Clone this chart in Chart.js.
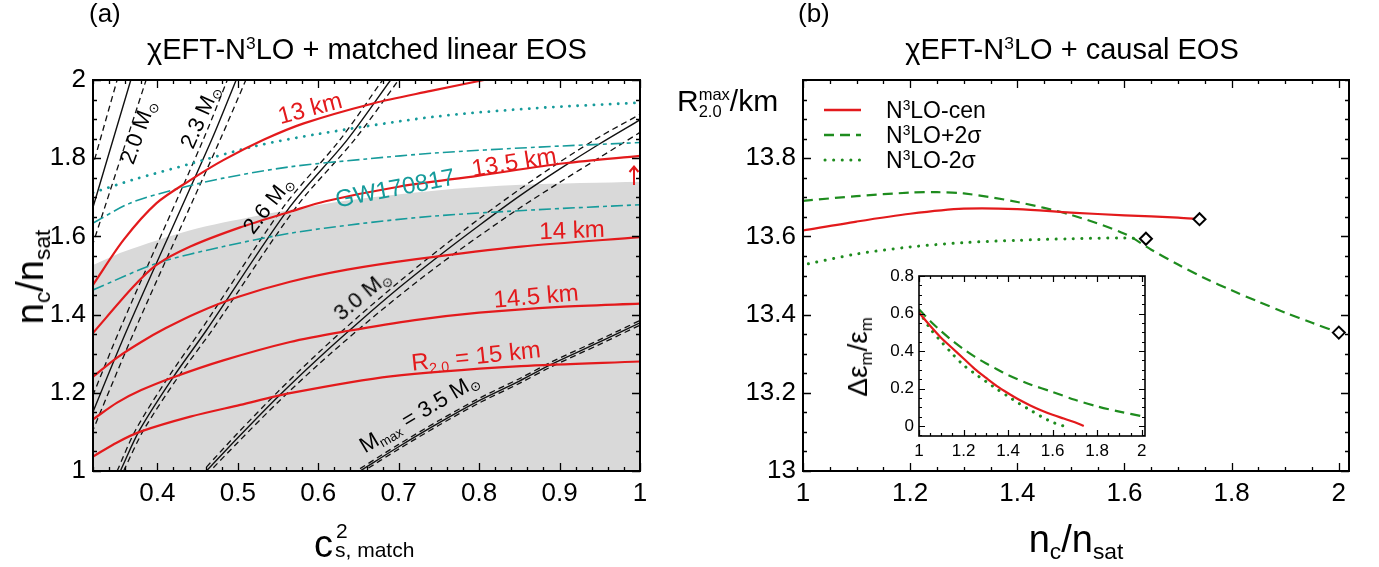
<!DOCTYPE html>
<html>
<head>
<meta charset="utf-8">
<script src="https://cdn.jsdelivr.net/npm/chart.js@4.4.1/dist/chart.umd.min.js"></script>
<style>
  body { margin: 0; background: #fff; width: 1379px; height: 567px; position: relative; overflow: hidden;
         font-family: "Liberation Sans", Arial, sans-serif; color: #000; }
  canvas { position: absolute; }
  .t { position: absolute; white-space: nowrap; line-height: 1; }
  .lab { position: absolute; white-space: nowrap; line-height: 1; transform-origin: 50% 50%; }
  sub { font-size: 0.6em; vertical-align: -0.3em; line-height: 0; }
  sup { font-size: 0.6em; vertical-align: 0.55em; line-height: 0; }
  .stack { display: inline-block; vertical-align: -0.35em; line-height: 1; font-size: 0.55em; }
  .stack span { display: block; }
</style>
</head>
<body>
<canvas id="ca" width="680" height="567" style="left:0;top:0"></canvas>
<canvas id="cb" width="689" height="567" style="left:690px;top:0"></canvas>
<canvas id="cc" width="300" height="220" style="left:860px;top:256px"></canvas>

<div class="t" style="left:89px;top:0px;font-size:26px">(a)</div>
<div class="t" style="left:798px;top:0px;font-size:26px">(b)</div>
<div class="t" style="left:367px;top:35px;font-size:29px;transform:translateX(-50%)">χEFT-N<sup>3</sup>LO + matched linear EOS</div>
<div class="t" style="left:1072px;top:35px;font-size:29px;transform:translateX(-50%)">χEFT-N<sup>3</sup>LO + causal EOS</div>

<!-- axis titles -->
<div class="lab" style="left:30px;top:277px;font-size:38px;transform:translate(-50%,-50%) rotate(-90deg)">n<sub>c</sub>/n<sub>sat</sub></div>
<div class="t" style="left:314px;top:525px;font-size:38px">c</div>
<div class="t" style="left:336px;top:520px;font-size:21px">2</div>
<div class="t" style="left:335px;top:539px;font-size:21px">s, match</div>
<div class="t" style="left:1076px;top:520px;font-size:38px;transform:translateX(-50%)">n<sub>c</sub>/n<sub>sat</sub></div>
<div class="t" style="left:677px;top:86px;font-size:30px">R<span class="stack"><span>max</span><span>2.0</span></span>/km</div>
<div class="lab" style="left:858px;top:357px;font-size:28px;transform:translate(-50%,-50%) rotate(-90deg)">Δε<sub>m</sub>/ε<sub>m</sub></div>

<!-- legend of panel b -->
<svg style="position:absolute;left:820px;top:98px" width="50" height="75">
  <line x1="4" y1="12" x2="41" y2="12" stroke="#e31a1c" stroke-width="2.5"/>
  <line x1="4" y1="37" x2="41" y2="37" stroke="#1e8c1e" stroke-width="2.5" stroke-dasharray="10,6"/>
  <line x1="5" y1="62" x2="41" y2="62" stroke="#1e8c1e" stroke-width="3" stroke-dasharray="0.1,8.5" stroke-linecap="round"/>
</svg>
<div class="t" style="left:886px;top:99px;font-size:23px">N<sup>3</sup>LO-cen</div>
<div class="t" style="left:886px;top:124px;font-size:23px">N<sup>3</sup>LO+2σ</div>
<div class="t" style="left:886px;top:149px;font-size:23px">N<sup>3</sup>LO-2σ</div>

<script>
const FONT = '"Liberation Sans", Arial, sans-serif';
const RED = '#e31a1c', GREEN = '#1e8c1e', TEAL = '#169b9b';

// ---------- panel (a) : n_c/n_sat vs c_s^2 ----------
const xTicksA = [0.4, 0.5, 0.6, 0.7, 0.8, 0.9, 1];
const xLabelsA = ['0.4', '0.5', '0.6', '0.7', '0.8', '0.9', '1'];
const yTicksA = [1, 1.2, 1.4, 1.6, 1.8, 2];
const yLabelsA = ['1', '1.2', '1.4', '1.6', '1.8', '2'];

// grey band (upper edge)
const grayX = [0.32, 0.358, 0.441, 0.523, 0.565, 0.636, 0.744, 0.852, 1.0];
const grayY = [1.527, 1.561, 1.616, 1.652, 1.668, 1.692, 1.717, 1.732, 1.74];

// R_2.0 contours
const r13X = [0.32, 0.358, 0.399, 0.441, 0.482, 0.532, 0.582, 0.668, 0.74, 0.82];
const r13Y = [1.476, 1.591, 1.685, 1.744, 1.795, 1.847, 1.889, 1.94, 1.972, 2.006];
const r135X = [0.32, 0.37, 0.399, 0.441, 0.503, 0.565, 0.609, 0.70, 0.798, 0.906, 1.0];
const r135Y = [1.353, 1.471, 1.527, 1.574, 1.623, 1.663, 1.69, 1.727, 1.755, 1.787, 1.806];
const r14X = [0.32, 0.35, 0.38, 0.41, 0.45, 0.5, 0.565, 0.636, 0.722, 0.852, 1.0];
const r14Y = [1.241, 1.29, 1.33, 1.365, 1.405, 1.445, 1.484, 1.515, 1.542, 1.574, 1.598];
const r145X = [0.32, 0.35, 0.38, 0.42, 0.482, 0.565, 0.636, 0.72, 0.8, 0.9, 1.0];
const r145Y = [1.132, 1.175, 1.207, 1.24, 1.283, 1.33, 1.358, 1.386, 1.405, 1.42, 1.428];
const r15X = [0.32, 0.35, 0.378, 0.441, 0.503, 0.565, 0.69, 0.852, 1.0];
const r15Y = [1.037, 1.073, 1.10, 1.139, 1.169, 1.199, 1.242, 1.268, 1.28];

// GW170817 bounds
const tDotX = [0.32, 0.37, 0.44, 0.52, 0.60, 0.744, 0.87, 1.0];
const tDotY = [1.712, 1.745, 1.785, 1.83, 1.862, 1.906, 1.928, 1.942];
const tUpX = [0.32, 0.366, 0.42, 0.482, 0.565, 0.66, 0.744, 0.87, 1.0];
const tUpY = [1.634, 1.685, 1.719, 1.749, 1.778, 1.798, 1.813, 1.828, 1.84];
const tLoX = [0.32, 0.399, 0.482, 0.565, 0.65, 0.744, 0.87, 1.0];
const tLoY = [1.463, 1.531, 1.574, 1.608, 1.632, 1.652, 1.668, 1.681];

// M_max contours (solid centre, dashed a/b on each side)
const m20Y = [1.55, 2.0];
const m20X = [0.302, 0.367];
const m20aX = [0.288, 0.350];
const m20bX = [0.315, 0.386];
const m23Y = [1.05, 1.36, 1.847, 2.0];
const m23X = [0.30, 0.362, 0.4675, 0.498];
const m23aX = [0.292, 0.353, 0.457, 0.487];
const m23bX = [0.309, 0.372, 0.478, 0.51];
const m26Y = [1.0, 1.105, 1.241, 1.36, 1.676, 1.847, 2.0];
const m26X = [0.354, 0.378, 0.42, 0.461, 0.565, 0.636, 0.69];
const m26aX = [0.350, 0.373, 0.414, 0.454, 0.557, 0.627, 0.68];
const m26bX = [0.358, 0.383, 0.426, 0.468, 0.573, 0.645, 0.70];
const m30X = [0.461, 0.5, 0.55, 0.6, 0.65, 0.7, 0.75, 0.8, 0.85, 0.9, 0.95, 1.0];
const m30Y = [1.0, 1.085, 1.19, 1.288, 1.38, 1.468, 1.55, 1.628, 1.703, 1.772, 1.837, 1.898];
const m30aY = [1.01, 1.097, 1.203, 1.302, 1.395, 1.483, 1.566, 1.645, 1.72, 1.79, 1.855, 1.912];
const m30bY = [0.99, 1.073, 1.176, 1.272, 1.362, 1.447, 1.527, 1.601, 1.672, 1.738, 1.802, 1.866];
const m35X = [0.652, 0.7, 0.75, 0.8, 0.85, 0.889, 0.95, 1.0];
const m35Y = [1.0, 1.062, 1.123, 1.18, 1.23, 1.272, 1.33, 1.379];
const m35aY = [1.006, 1.068, 1.129, 1.186, 1.236, 1.278, 1.336, 1.385];
const m35bY = [0.994, 1.056, 1.117, 1.174, 1.224, 1.266, 1.324, 1.373];

// ---------- panel (b) : R_2.0^max vs n_c/n_sat ----------
const xTicksB = [1, 1.2, 1.4, 1.6, 1.8, 2];
const xLabelsB = ['1', '1.2', '1.4', '1.6', '1.8', '2'];
const yTicksB = [13, 13.2, 13.4, 13.6, 13.8];
const yLabelsB = ['13', '13.2', '13.4', '13.6', '13.8'];

const cenX = [1.0, 1.1, 1.2, 1.3, 1.4, 1.5, 1.6, 1.7, 1.74];
const cenR = [13.615, 13.638, 13.658, 13.671, 13.67, 13.661, 13.654, 13.648, 13.644];
const upX = [1.0, 1.1, 1.2, 1.25, 1.3, 1.4, 1.5, 1.6, 1.65, 1.7, 1.75, 1.8, 1.85, 1.9, 1.95, 2.0];
const upR = [13.691, 13.703, 13.712, 13.713, 13.71, 13.688, 13.655, 13.607, 13.566, 13.528, 13.493, 13.462, 13.433, 13.405, 13.379, 13.354];
const loX = [1.01, 1.1, 1.2, 1.3, 1.4, 1.5, 1.6, 1.64];
const loR = [13.53, 13.555, 13.573, 13.584, 13.59, 13.594, 13.596, 13.594];
const endX = [1.74, 1.64, 2.0];
const endR = [13.644, 13.594, 13.354];

// ---------- inset : Δε_m/ε_m ----------
const xTicksC = [1, 1.2, 1.4, 1.6, 1.8, 2];
const xLabelsC = ['1', '1.2', '1.4', '1.6', '1.8', '2'];
const yTicksC = [0, 0.2, 0.4, 0.6, 0.8];
const yLabelsC = ['0', '0.2', '0.4', '0.6', '0.8'];

const dcenX = [1.0, 1.05, 1.1, 1.15, 1.2, 1.25, 1.3, 1.35, 1.4, 1.45, 1.5, 1.55, 1.6, 1.65, 1.7, 1.74];
const dcenY = [0.605, 0.535, 0.47, 0.415, 0.36, 0.305, 0.258, 0.213, 0.175, 0.14, 0.11, 0.083, 0.06, 0.04, 0.02, 0.0];
const dupX = [1.0, 1.05, 1.1, 1.15, 1.2, 1.25, 1.3, 1.35, 1.4, 1.5, 1.6, 1.7, 1.8, 1.9, 2.0];
const dupY = [0.623, 0.56, 0.505, 0.455, 0.41, 0.37, 0.335, 0.303, 0.272, 0.222, 0.182, 0.14, 0.105, 0.077, 0.053];
const dloX = [1.0, 1.05, 1.1, 1.15, 1.2, 1.25, 1.3, 1.35, 1.4, 1.45, 1.5, 1.55, 1.6, 1.65];
const dloY = [0.61, 0.52, 0.45, 0.385, 0.325, 0.28, 0.238, 0.197, 0.158, 0.12, 0.085, 0.05, 0.02, 0.0];

function pts(xs, ys) { return xs.map((x, i) => ({ x: x, y: ys[i] })); }

function curve(xs, ys, color, width, dash, order, cap) {
  return { data: pts(xs, ys), showLine: true, borderColor: color, borderWidth: width,
           borderDash: dash || [], borderCapStyle: cap || 'butt', pointRadius: 0,
           tension: 0.3, fill: false, order: order };
}

function axis(min, max, ticks, labels, size, pad, fit) {
  return {
    type: 'linear', min: min, max: max,
    afterBuildTicks: s => { s.ticks = ticks.map(v => ({ value: v })); },
    afterFit: fit,
    grid: { display: false, drawTicks: false },
    border: { display: false },
    ticks: { autoSkip: false, maxRotation: 0, minRotation: 0, padding: pad, color: '#000',
             font: { family: FONT, size: size }, callback: (v, i) => labels[i] }
  };
}

// ticks pointing inward on all four sides, plus the frame
const boxTicks = {
  id: 'boxTicks',
  beforeDatasetsDraw(chart, args, o) {
    if (!o.white) return;
    const a = chart.chartArea;
    chart.ctx.save();
    chart.ctx.fillStyle = '#fff';
    chart.ctx.fillRect(a.left, a.top, a.width, a.height);
    chart.ctx.restore();
  },
  afterDatasetsDraw(chart, args, o) {
    const { ctx, chartArea: a, scales: { x, y } } = chart;
    const steps = (s, step) => {
      const out = [];
      for (let k = Math.ceil(s.min / step - 1e-6); k * step <= s.max + 1e-9; k++) out.push(k * step);
      return out;
    };
    ctx.save();
    ctx.strokeStyle = '#000';
    ctx.lineWidth = o.lw;
    ctx.beginPath();
    const markX = (v, len) => {
      const p = Math.round(x.getPixelForValue(v)) + 0.5;
      ctx.moveTo(p, a.bottom); ctx.lineTo(p, a.bottom - len);
      ctx.moveTo(p, a.top); ctx.lineTo(p, a.top + len);
    };
    const markY = (v, len) => {
      const p = Math.round(y.getPixelForValue(v)) + 0.5;
      ctx.moveTo(a.left, p); ctx.lineTo(a.left + len, p);
      ctx.moveTo(a.right, p); ctx.lineTo(a.right - len, p);
    };
    steps(x, o.minorX).forEach(v => markX(v, o.minor));
    steps(y, o.minorY).forEach(v => markY(v, o.minor));
    x.ticks.forEach(t => markX(t.value, o.major));
    y.ticks.forEach(t => markY(t.value, o.major));
    ctx.stroke();
    ctx.lineWidth = o.frame;
    ctx.strokeRect(a.left, a.top, a.width, a.height);
    ctx.restore();
  }
};

// panel (a)
const black = '#111';
const chartA = new Chart(document.getElementById('ca'), {
  type: 'scatter',
  data: { datasets: [
    curve(r13X, r13Y, RED, 2.2, [], 1),
    curve(r135X, r135Y, RED, 2.2, [], 1),
    curve(r14X, r14Y, RED, 2.2, [], 1),
    curve(r145X, r145Y, RED, 2.2, [], 1),
    curve(r15X, r15Y, RED, 2.2, [], 1),
    curve(tDotX, tDotY, TEAL, 2.8, [0.1, 8], 2, 'round'),
    curve(tUpX, tUpY, TEAL, 1.6, [12, 4, 4, 4], 2),
    curve(tLoX, tLoY, TEAL, 1.6, [12, 4, 4, 4], 2),
    curve(m20X, m20Y, black, 1.4, [], 3),
    curve(m20aX, m20Y, black, 1.3, [6, 4], 3),
    curve(m20bX, m20Y, black, 1.3, [6, 4], 3),
    curve(m23X, m23Y, black, 1.4, [], 3),
    curve(m23aX, m23Y, black, 1.3, [6, 4], 3),
    curve(m23bX, m23Y, black, 1.3, [6, 4], 3),
    curve(m26X, m26Y, black, 1.4, [], 3),
    curve(m26aX, m26Y, black, 1.3, [6, 4], 3),
    curve(m26bX, m26Y, black, 1.3, [6, 4], 3),
    curve(m30X, m30Y, black, 1.4, [], 3),
    curve(m30X, m30aY, black, 1.3, [6, 4], 3),
    curve(m30X, m30bY, black, 1.3, [6, 4], 3),
    curve(m35X, m35Y, black, 1.4, [], 3),
    curve(m35X, m35aY, black, 1.3, [6, 4], 3),
    curve(m35X, m35bY, black, 1.3, [6, 4], 3),
    { data: pts(grayX, grayY), showLine: true, fill: 'start', backgroundColor: '#d9d9d9',
      borderWidth: 0, borderColor: 'rgba(0,0,0,0)', pointRadius: 0, tension: 0.3, order: 10 }
  ] },
  options: {
    responsive: false, animation: false, events: [],
    layout: { padding: { left: 0, top: 80, right: 40, bottom: 0 } },
    plugins: { legend: { display: false }, tooltip: { enabled: false },
      boxTicks: { minorX: 0.02, minorY: 0.05, major: 8, minor: 4, lw: 1.3, frame: 2 } },
    scales: {
      x: axis(0.32, 1, xTicksA, xLabelsA, 26, 7, s => { s.height = 96; }),
      y: axis(1, 2, yTicksA, yLabelsA, 26, 7, s => { s.width = 93; })
    }
  },
  plugins: [boxTicks]
});

// panel (b)
const chartB = new Chart(document.getElementById('cb'), {
  type: 'scatter',
  data: { datasets: [
    { data: pts(endX, endR), showLine: false, pointStyle: 'rectRot', pointRadius: 6,
      borderColor: '#000', borderWidth: 2, backgroundColor: '#fff', order: 0 },
    curve(cenX, cenR, RED, 2.2, [], 1),
    curve(upX, upR, GREEN, 2.2, [10, 6], 2),
    curve(loX, loR, GREEN, 3, [0.1, 8.5], 2, 'round')
  ] },
  options: {
    responsive: false, animation: false, events: [],
    layout: { padding: { left: 0, top: 80, right: 30, bottom: 0 } },
    plugins: { legend: { display: false }, tooltip: { enabled: false },
      boxTicks: { minorX: 0.05, minorY: 0.05, major: 8, minor: 4, lw: 1.3, frame: 2 } },
    scales: {
      x: axis(1, 2.019, xTicksB, xLabelsB, 26, 7, s => { s.height = 96; }),
      y: axis(13, 14, yTicksB, yLabelsB, 26, 7, s => { s.width = 113; })
    }
  },
  plugins: [boxTicks]
});

// inset
const chartC = new Chart(document.getElementById('cc'), {
  type: 'scatter',
  data: { datasets: [
    curve(dcenX, dcenY, RED, 2.2, [], 1),
    curve(dupX, dupY, GREEN, 2.2, [10, 6], 2),
    curve(dloX, dloY, GREEN, 3, [0.1, 8], 2, 'round')
  ] },
  options: {
    responsive: false, animation: false, events: [],
    layout: { padding: { left: 0, top: 20, right: 15, bottom: 0 } },
    plugins: { legend: { display: false }, tooltip: { enabled: false },
      boxTicks: { minorX: 0.05, minorY: 0.05, major: 6, minor: 3, lw: 1.2, frame: 1.6, white: true } },
    scales: {
      x: axis(1, 2.015, xTicksC, xLabelsC, 17, 5, s => { s.height = 40; }),
      y: axis(-0.053, 0.8, yTicksC, yLabelsC, 17, 5, s => { s.width = 59; })
    }
  },
  plugins: [boxTicks]
});

// curve labels of panel (a), anchored in data coordinates
const arrowSvg = '<svg width="12" height="22" style="display:block">' +
  '<line x1="6" y1="3" x2="6" y2="21" stroke="' + RED + '" stroke-width="2"/>' +
  '<polyline points="1.5,8 6,2.5 10.5,8" fill="none" stroke="' + RED + '" stroke-width="2"/></svg>';
const labelsA = [
  { html: '13 km', x: 0.59, y: 1.928, rot: -15, color: RED, size: 24 },
  { html: '13.5 km', x: 0.843, y: 1.79, rot: -9, color: RED, size: 24 },
  { html: '14 km', x: 0.915, y: 1.616, rot: -2, color: RED, size: 24 },
  { html: '14.5 km', x: 0.871, y: 1.448, rot: -5, color: RED, size: 24 },
  { html: 'R<sub>2.0</sub> = 15 km', x: 0.796, y: 1.294, rot: -6, color: RED, size: 24 },
  { html: 'GW170817', x: 0.695, y: 1.724, rot: -11, color: TEAL, size: 24 },
  { html: '2.0 M<sub>⊙</sub>', x: 0.376, y: 1.867, rot: -70, color: '#000', size: 22 },
  { html: '2.3 M<sub>⊙</sub>', x: 0.453, y: 1.905, rot: -66, color: '#000', size: 22 },
  { html: '2.6 M<sub>⊙</sub>', x: 0.538, y: 1.68, rot: -52, color: '#000', size: 22 },
  { html: '3.0 M<sub>⊙</sub>', x: 0.654, y: 1.45, rot: -40, color: '#000', size: 22 },
  { html: 'M<sub>max</sub> = 3.5 M<sub>⊙</sub>', x: 0.725, y: 1.148, rot: -31, color: '#000', size: 22 },
  { html: arrowSvg, x: 0.992, y: 1.757, rot: 0, color: RED, size: 22 }
];

function placeLabels(chart, left, top, list) {
  list.forEach(l => {
    const d = document.createElement('div');
    d.className = 'lab';
    d.innerHTML = l.html;
    d.style.left = (left + chart.scales.x.getPixelForValue(l.x)) + 'px';
    d.style.top = (top + chart.scales.y.getPixelForValue(l.y)) + 'px';
    d.style.color = l.color;
    d.style.fontSize = l.size + 'px';
    d.style.transform = 'translate(-50%,-50%) rotate(' + l.rot + 'deg)';
    document.body.appendChild(d);
  });
}
placeLabels(chartA, 0, 0, labelsA);
</script>
</body>
</html>
